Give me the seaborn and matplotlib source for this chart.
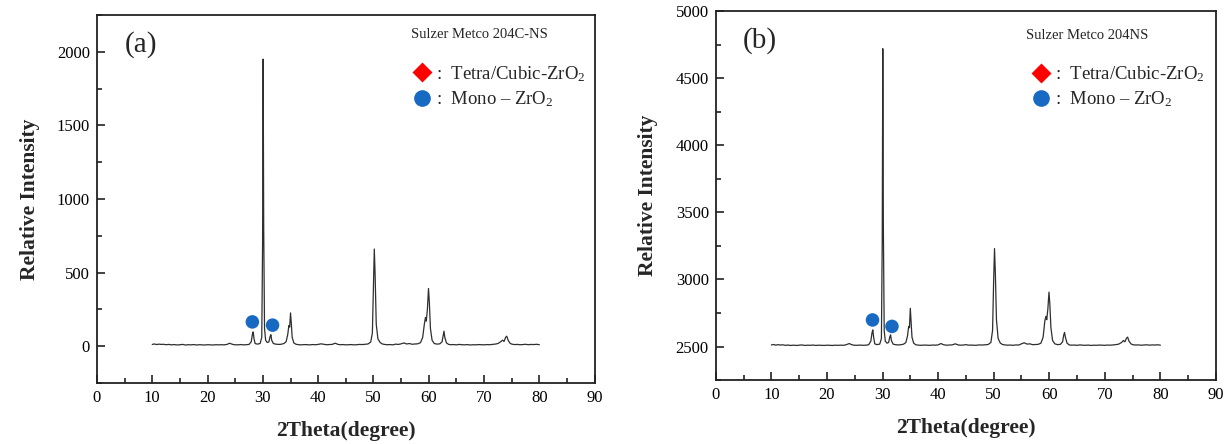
import numpy as np
import pandas as pd
import matplotlib.pyplot as plt
import seaborn as sns
from matplotlib.lines import Line2D
from matplotlib.ticker import MultipleLocator

# scan points (2 theta, degree), same for both powders
two_theta = [
    10.0, 10.4, 10.8, 11.2, 11.6, 12.0, 12.5, 13.0, 13.5, 14.0,
    14.5, 15.0, 15.5, 16.0, 16.5, 17.0, 17.5, 18.0, 18.5, 19.0,
    19.5, 20.0, 20.5, 21.0, 21.5, 22.0, 22.5, 23.0, 23.5, 24.0,
    24.4, 24.8, 25.5, 26.0, 26.5, 27.0, 27.5, 27.9, 28.1, 28.25,
    28.4, 28.6, 29.0, 29.5, 29.8, 29.95, 30.05, 30.15, 30.3, 30.5,
    30.8, 31.1, 31.3, 31.45, 31.6, 31.9, 32.3, 32.8, 33.3, 33.8,
    34.2, 34.5, 34.7, 34.85, 35.0, 35.15, 35.3, 35.6, 36.0, 36.5,
    37.0, 37.5, 38.0, 38.5, 39.0, 39.5, 40.0, 40.5, 41.0, 41.5,
    42.0, 42.5, 43.1, 43.6, 44.0, 44.5, 45.0, 45.5, 46.0, 46.5,
    47.0, 47.5, 48.0, 48.5, 49.0, 49.5, 49.8, 50.0, 50.15, 50.3,
    50.5, 50.8, 51.2, 51.6, 52.0, 52.5, 53.0, 53.5, 54.0, 54.5,
    55.0, 55.5, 56.0, 56.5, 57.0, 57.5, 58.0, 58.5, 58.9, 59.2,
    59.4, 59.55, 59.75, 59.95, 60.1, 60.3, 60.6, 61.0, 61.5, 62.0,
    62.4, 62.6, 62.75, 62.9, 63.2, 63.6, 64.0, 64.5, 65.0, 65.5,
    66.0, 66.5, 67.0, 67.5, 68.0, 68.5, 69.0, 69.5, 70.0, 70.5,
    71.0, 71.5, 72.0, 72.5, 73.0, 73.35, 73.6, 73.9, 74.1, 74.35,
    74.7, 75.0, 75.5, 76.0, 76.5, 77.0, 77.5, 78.0, 78.5, 79.0,
    79.5, 80.0]

# (a) Sulzer Metco 204C-NS
intensity_a = [
    12, 15, 11, 14, 12, 13, 10, 12, 9, 11,
    8, 10, 12, 8, 10, 9, 11, 8, 10, 9,
    8, 10, 9, 8, 10, 9, 10, 9, 12, 20,
    14, 10, 9, 11, 9, 10, 12, 30, 80, 97,
    50, 18, 14, 18, 60, 700, 1950, 800, 120, 40,
    25, 30, 65, 78, 40, 18, 14, 12, 13, 18,
    30, 80, 140, 130, 226, 150, 60, 22, 13, 10,
    9, 11, 10, 9, 11, 10, 12, 16, 13, 10,
    11, 12, 20, 12, 10, 11, 9, 10, 11, 9,
    10, 12, 11, 13, 15, 28, 90, 400, 660, 480,
    150, 50, 25, 15, 12, 10, 11, 9, 14, 12,
    16, 22, 15, 18, 13, 15, 16, 24, 60, 150,
    195, 170, 250, 392, 300, 120, 40, 18, 14, 16,
    30, 70, 102, 60, 22, 12, 10, 11, 9, 12,
    10, 9, 11, 8, 10, 9, 11, 10, 9, 11,
    10, 12, 14, 18, 30, 41, 32, 60, 68, 40,
    20, 14, 11, 12, 10, 11, 13, 10, 12, 11,
    13, 10]

# (b) Sulzer Metco 204NS
intensity_b = [
    2512, 2515, 2510, 2514, 2511, 2513, 2509, 2511, 2508, 2510,
    2508, 2510, 2512, 2508, 2510, 2509, 2511, 2508, 2510, 2509,
    2508, 2510, 2509, 2508, 2510, 2509, 2510, 2509, 2514, 2522,
    2515, 2510, 2509, 2511, 2509, 2510, 2513, 2540, 2600, 2624,
    2570, 2520, 2514, 2518, 2560, 3300, 4720, 3400, 2620, 2540,
    2525, 2530, 2570, 2587, 2545, 2518, 2514, 2512, 2513, 2518,
    2530, 2580, 2650, 2640, 2785, 2680, 2570, 2525, 2513, 2510,
    2509, 2511, 2510, 2509, 2511, 2510, 2512, 2522, 2513, 2510,
    2511, 2512, 2520, 2512, 2510, 2511, 2514, 2510, 2511, 2509,
    2510, 2512, 2511, 2513, 2515, 2530, 2620, 3000, 3230, 3050,
    2700, 2560, 2525, 2515, 2512, 2510, 2511, 2509, 2512, 2511,
    2520, 2528, 2518, 2520, 2514, 2515, 2516, 2525, 2570, 2690,
    2725, 2700, 2780, 2905, 2820, 2640, 2545, 2520, 2514, 2516,
    2535, 2585, 2605, 2570, 2525, 2512, 2510, 2511, 2509, 2512,
    2510, 2509, 2511, 2508, 2510, 2509, 2511, 2510, 2509, 2511,
    2510, 2512, 2514, 2518, 2530, 2545, 2535, 2562, 2570, 2540,
    2520, 2514, 2511, 2512, 2510, 2511, 2513, 2510, 2512, 2511,
    2513, 2510]

# monoclinic ZrO2 markers
mono_x_a = [28.1, 31.75]
mono_y_a = [165, 143]
mono_x_b = [28.2, 31.7]
mono_y_b = [2698, 2650]

samples = ['Sulzer Metco 204C-NS', 'Sulzer Metco 204NS']
tags = ['(a)', '(b)']
phase_labels = [':  Tetra/Cubic-ZrO$_2$', ':  Mono – ZrO$_2$']

RED = '#ff0000'
BLUE = '#1769c2'

sns.set_style("ticks")
plt.rcParams['font.family'] = ['Liberation Serif', 'DejaVu Serif']
plt.rcParams['mathtext.fontset'] = 'custom'
plt.rcParams['mathtext.rm'] = 'Liberation Serif'
plt.rcParams['mathtext.it'] = 'Liberation Serif:italic'
plt.rcParams['mathtext.bf'] = 'Liberation Serif:bold'


def draw_panel(ax, y, mono_x, mono_y, ylim, ystep, tag, sample, sample_xy, leg_xy, ylabelpad):
    df = pd.DataFrame({'two_theta': two_theta, 'intensity': y})
    sns.lineplot(data=df, x='two_theta', y='intensity', ax=ax, color='#2e2e2e',
                 lw=0.9, estimator=None, sort=False)
    sns.scatterplot(x=mono_x, y=mono_y, ax=ax, color=BLUE, s=95,
                    edgecolor='none', zorder=3)

    ax.set_xlim(0, 90)
    ax.set_ylim(*ylim)
    ax.xaxis.set_major_locator(MultipleLocator(10))
    ax.xaxis.set_minor_locator(MultipleLocator(5))
    ax.yaxis.set_major_locator(MultipleLocator(ystep))
    ax.yaxis.set_minor_locator(MultipleLocator(ystep / 2))
    ax.tick_params(which='both', direction='in', width=1.2, colors='#222222',
                   labelcolor='black', labelsize=12)
    ax.tick_params(which='major', length=6, pad=5)
    ax.tick_params(which='minor', length=3.5)
    for sp in ax.spines.values():
        sp.set_linewidth(1.3)
        sp.set_color('#222222')

    ax.set_xlabel('2Theta(degree)', fontsize=15.5, fontweight='bold', labelpad=11)
    ax.set_ylabel('Relative Intensity', fontsize=15.5, fontweight='bold', labelpad=ylabelpad)

    ax.text(0.088, 0.92, tag, transform=ax.transAxes, fontsize=21,
            ha='center', va='center')
    ax.text(sample_xy[0], sample_xy[1], sample, transform=ax.transAxes,
            fontsize=10.5, ha='center', va='center')

    handles = [
        Line2D([], [], ls='none', marker='D', markersize=10,
               markerfacecolor=RED, markeredgecolor='none'),
        Line2D([], [], ls='none', marker='o', markersize=12,
               markerfacecolor=BLUE, markeredgecolor='none'),
    ]
    ax.legend(handles, phase_labels, loc='upper left', bbox_to_anchor=leg_xy,
              frameon=False, fontsize=13.5, handlelength=1.0, handletextpad=0.25,
              borderpad=0, borderaxespad=0, labelspacing=0.3)


fig = plt.figure(figsize=(12.32, 4.44), dpi=100)
ax_a = fig.add_axes([0.0787, 0.1374, 0.404, 0.829])
ax_b = fig.add_axes([0.581, 0.144, 0.406, 0.831])

draw_panel(ax_a, intensity_a, mono_x_a, mono_y_a, (-250, 2250), 500,
           tags[0], samples[0], (0.768, 0.946), (0.634, 0.867), 12)
draw_panel(ax_b, intensity_b, mono_x_b, mono_y_b, (2250, 5000), 500,
           tags[1], samples[1], (0.742, 0.935), (0.632, 0.856), 13)

fig.savefig('out.png', dpi=100)
